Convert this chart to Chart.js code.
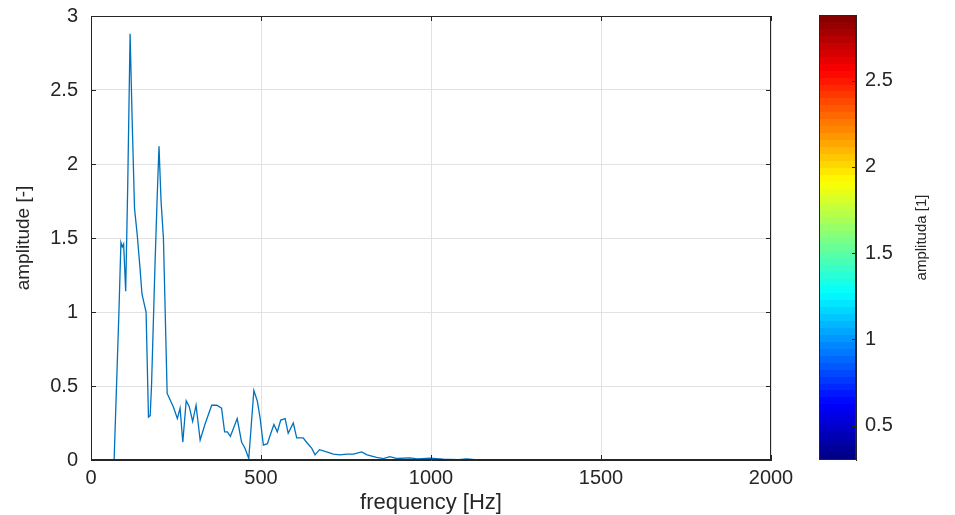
<!DOCTYPE html>
<html>
<head>
<meta charset="utf-8">
<script src="https://cdn.jsdelivr.net/npm/chart.js@4.4.0/dist/chart.umd.min.js"></script>
<style>
    html, body { margin: 0; padding: 0; background: #fff; }
    #wrap { position: relative; width: 955px; height: 515px; }
    #mainChart { position: absolute; left: 0; top: 0; }
    #barChart { position: absolute; left: 800px; top: 0; }
</style>
</head>
<body>
<div id="wrap">
    <canvas id="mainChart" width="800" height="515"></canvas>
    <canvas id="barChart" width="155" height="515"></canvas>
</div>
<script>
// === スペクトルデータ ===
const freqs = [0, 68, 82, 88, 92, 96, 102, 108, 115, 121, 128, 136, 144, 150, 162, 169, 174, 178, 188, 195,
    200, 206, 213, 224, 232, 242, 254, 262, 270, 280, 289, 299, 309, 321, 335, 355, 370, 384, 393, 401,
    410, 430, 443, 453, 464, 479, 489, 497, 507, 519, 526, 538, 548, 558, 571, 580, 595, 605, 624, 634,
    649, 659, 672, 693, 713, 732, 752, 772, 796, 812, 840, 860, 879, 900, 938, 960, 997, 1036, 1080, 1105,
    1130, 1200, 1400, 2000];
const amps = [0, 0, 0.99, 1.47, 1.44, 1.46, 1.14, 1.85, 2.88, 2.3, 1.7, 1.52, 1.3, 1.12, 1.0, 0.29, 0.30, 0.5, 1.3, 1.8,
    2.12, 1.75, 1.5, 0.45, 0.41, 0.36, 0.28, 0.35, 0.12, 0.40, 0.36, 0.26, 0.37, 0.135, 0.24, 0.37, 0.37, 0.35, 0.19, 0.19,
    0.16, 0.28, 0.12, 0.08, 0.01, 0.47, 0.40, 0.29, 0.10, 0.11, 0.16, 0.24, 0.19, 0.27, 0.28, 0.18, 0.25, 0.15, 0.15, 0.12,
    0.08, 0.035, 0.07, 0.055, 0.04, 0.035, 0.04, 0.04, 0.055, 0.035, 0.018, 0.01, 0.022, 0.01, 0.015, 0.008, 0.012, 0.005, 0.003, 0.008,
    0.002, 0.001, 0, 0];

// === 目盛り ===
const xTicks = [0, 500, 1000, 1500, 2000];
const yTicks = [0, 0.5, 1, 1.5, 2, 2.5, 3];
const cbTicks = [0.5, 1, 1.5, 2, 2.5];
const cbRange = [0.3, 2.88];

const FONT = "'Liberation Sans', Arial, Helvetica, sans-serif";
const TEXT = '#262626';
const AXIS = '#262626';
const GRID = '#e2e2e2';

/**
 * jetカラーマップ (0-1)
 */
const jet = (t) => {
    const c = v => Math.round(255 * Math.min(1, Math.max(0, v)));
    return `rgb(${c(1.5 - Math.abs(4 * t - 3))}, ${c(1.5 - Math.abs(4 * t - 2))}, ${c(1.5 - Math.abs(4 * t - 1))})`;
};

// 枠線と内向きの目盛り線 (MATLAB風)
const boxPlugin = {
    id: 'box',
    afterDraw(chart, args, opts) {
        const { ctx, chartArea: a, scales } = chart;
        ctx.save();
        ctx.strokeStyle = AXIS;
        ctx.lineWidth = 1;
        ctx.strokeRect(a.left + 0.5, a.top + 0.5, a.right - a.left - 1, a.bottom - a.top - 1);
        ctx.beginPath();
        const len = opts.len || 5;
        if (opts.x) {
            opts.x.forEach(v => {
                const px = Math.round(scales.x.getPixelForValue(v)) + 0.5;
                ctx.moveTo(px, a.bottom); ctx.lineTo(px, a.bottom - len);
                ctx.moveTo(px, a.top); ctx.lineTo(px, a.top + len);
            });
        }
        if (opts.y) {
            opts.y.forEach(v => {
                const py = Math.round(scales.y.getPixelForValue(v)) + 0.5;
                if (opts.left !== false) { ctx.moveTo(a.left, py); ctx.lineTo(a.left + len, py); }
                ctx.moveTo(a.right, py); ctx.lineTo(a.right - len, py);
            });
        }
        ctx.stroke();
        if (opts.label) {
            ctx.fillStyle = TEXT;
            ctx.font = `15px ${FONT}`;
            ctx.textAlign = 'center';
            ctx.textBaseline = 'middle';
            ctx.translate(opts.label.x, (a.top + a.bottom) / 2);
            ctx.rotate(-Math.PI / 2);
            ctx.fillText(opts.label.text, 0, 0);
        }
        ctx.restore();
    }
};

new Chart(document.getElementById('mainChart'), {
    type: 'line',
    data: {
        datasets: [{
            data: freqs.map((f, i) => ({ x: f, y: amps[i] })),
            borderColor: '#0072BD',
            borderWidth: 1.3,
            pointRadius: 0,
            tension: 0,
            fill: false
        }]
    },
    options: {
        responsive: false,
        devicePixelRatio: 1,
        animation: false,
        layout: { padding: { left: 0, top: 16, right: 29, bottom: 0 } },
        plugins: {
            legend: { display: false },
            tooltip: { enabled: false },
            box: { x: xTicks, y: yTicks, len: 5 }
        },
        scales: {
            x: {
                type: 'linear',
                min: 0,
                max: 2000,
                afterBuildTicks: s => { s.ticks = xTicks.map(v => ({ value: v })); },
                afterFit: s => { s.height = 55; s.paddingLeft = 0; s.paddingRight = 0; },
                ticks: { padding: 6, color: TEXT, font: { family: FONT, size: 20 }, maxRotation: 0, callback: v => String(v) },
                grid: { color: GRID, drawTicks: false },
                border: { display: true, color: AXIS },
                title: {
                    display: true,
                    text: 'frequency [Hz]',
                    color: TEXT,
                    font: { family: FONT, size: 22, lineHeight: 1 },
                    padding: { top: 0, bottom: 1 }
                }
            },
            y: {
                min: 0,
                max: 3,
                afterBuildTicks: s => { s.ticks = yTicks.map(v => ({ value: v })); },
                afterFit: s => { s.width = 91; s.paddingTop = 0; s.paddingBottom = 0; },
                ticks: { padding: 13, color: TEXT, font: { family: FONT, size: 20 }, callback: v => String(v) },
                grid: { color: GRID, drawTicks: false },
                border: { display: true, color: AXIS },
                title: {
                    display: true,
                    text: 'amplitude [-]',
                    color: TEXT,
                    font: { family: FONT, size: 19 },
                    padding: { top: 12, bottom: 0 }
                }
            }
        }
    },
    plugins: [boxPlugin]
});

// カラーバー
new Chart(document.getElementById('barChart'), {
    type: 'bar',
    data: {
        labels: [''],
        datasets: [{
            data: [cbRange],
            barPercentage: 1,
            categoryPercentage: 1,
            borderWidth: 0,
            backgroundColor: (context) => {
                const area = context.chart.chartArea;
                if (!area) return '#00f';
                const g = context.chart.ctx.createLinearGradient(0, area.bottom, 0, area.top);
                for (let i = 0; i < 64; i++) {
                    const col = jet((i + 0.5) / 64);
                    g.addColorStop(i / 64, col);
                    g.addColorStop((i + 1) / 64, col);
                }
                return g;
            }
        }]
    },
    options: {
        responsive: false,
        devicePixelRatio: 1,
        animation: false,
        layout: { padding: { left: 19, top: 15, right: 0, bottom: 55 } },
        plugins: {
            legend: { display: false },
            tooltip: { enabled: false },
            box: { y: cbTicks, len: 4, left: false, label: { text: 'amplituda [1]', x: 122 } }
        },
        scales: {
            x: { display: false },
            y: {
                position: 'right',
                min: cbRange[0],
                max: cbRange[1],
                afterBuildTicks: s => { s.ticks = cbTicks.map(v => ({ value: v })); },
                afterFit: s => { s.width = 99; s.paddingTop = 0; s.paddingBottom = 0; },
                ticks: { padding: 9, color: TEXT, font: { family: FONT, size: 20 }, callback: v => String(v) },
                grid: { display: false, drawTicks: false },
                border: { display: true, color: AXIS }
            }
        }
    },
    plugins: [boxPlugin]
});
</script>
</body>
</html>
